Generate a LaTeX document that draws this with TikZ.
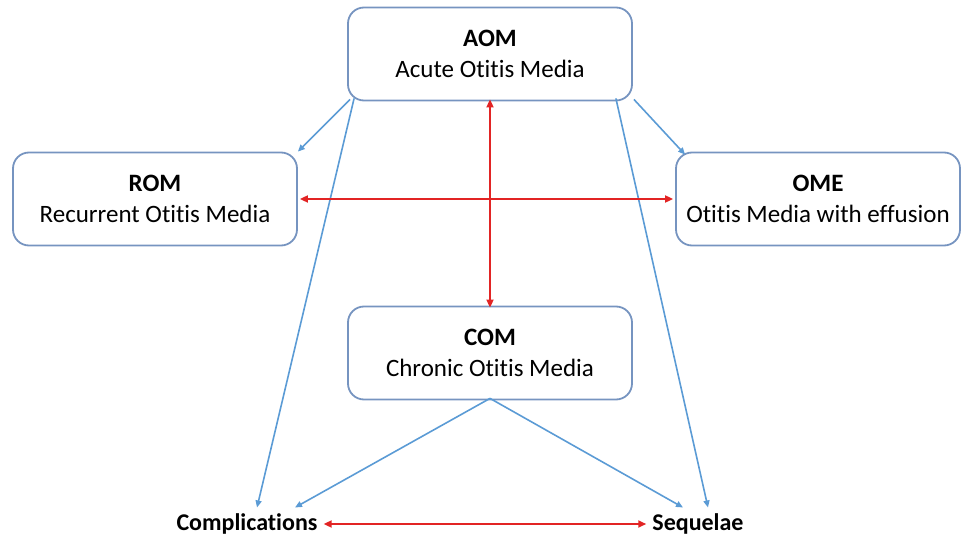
\documentclass[tikz,border=0pt]{standalone}
\usepackage{fontspec}
\setmainfont{Carlito}[Ligatures=NoCommon]
\usetikzlibrary{arrows.meta}
\definecolor{boxline}{RGB}{118,148,192}
\definecolor{linkblue}{RGB}{91,155,213}
\definecolor{linkred}{RGB}{226,36,36}

\begin{document}
\begin{tikzpicture}[x=1pt,y=-1pt,
  box/.style={draw=boxline, line width=1.8pt, rounded corners=16pt, minimum width=284pt, minimum height=93pt, align=center, font=\fontsize{25}{31}\selectfont},
  endpt/.style={font=\fontsize{24}{28}\selectfont\bfseries, inner sep=6pt},
  feed/.style={draw=linkblue, line width=1.6pt, -{Triangle[length=7pt,width=6pt]}},
  link/.style={draw=linkred, line width=1.8pt, {Triangle[length=8pt,width=7pt]}-{Triangle[length=8pt,width=7pt]}}]
\useasboundingbox (0,0) rectangle (962,540);
% disease boxes
\node[box] (aom) at (490,54) {\textbf{AOM}\\Acute Otitis Media};
\node[box] (rom) at (155,199) {\textbf{ROM}\\Recurrent Otitis Media};
\node[box] (ome) at (818,199) {\textbf{OME}\\Otitis Media with effusion};
\node[box] (com) at (490,353) {\textbf{COM}\\Chronic Otitis Media};
% outcomes
\node[endpt] (comp) at (247,524) {Complications};
\node[endpt] (seq) at (698,524) {Sequelae};
% progression
\draw[feed] ([xshift=3pt,yshift=2pt]aom.south west) -- (rom.north east);
\draw[feed] ([xshift=7pt,yshift=3pt]aom.south west) -- ([xshift=10pt]comp.north);
\draw[feed] ([xshift=-17pt,yshift=3pt]aom.south east) -- ([xshift=10pt]seq.north);
\draw[feed] ([xshift=1pt,yshift=2pt]aom.south east) -- ([xshift=10pt,yshift=-3pt]ome.north west);
\draw[feed] ([yshift=2pt]com.south) -- ([xshift=48pt]comp.north);
\draw[feed] ([yshift=2pt]com.south) -- ([xshift=-15pt]seq.north);
% two-way links
\draw[link] ([yshift=2pt]aom.south) -- ([yshift=-2pt]com.north);
\draw[link] ([xshift=2pt]rom.east) -- ([xshift=-2pt]ome.west);
\draw[link] (comp.east) -- (seq.west);
\end{tikzpicture}
\end{document}
